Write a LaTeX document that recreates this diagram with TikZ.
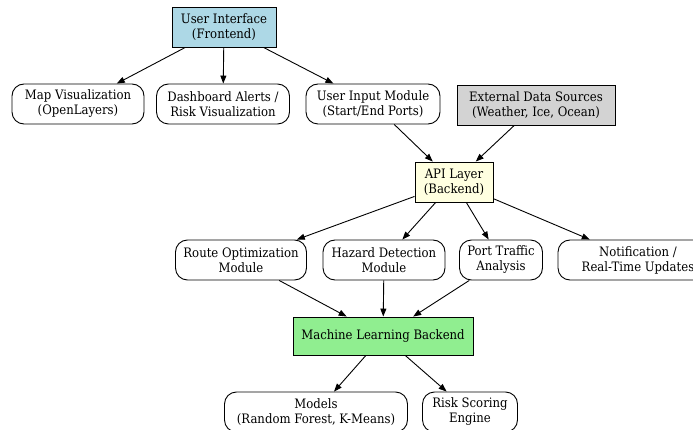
\documentclass[tikz,border=0pt]{standalone}
\usepackage{fontspec}
\setmainfont{DejaVu Serif Condensed}
\usetikzlibrary{arrows.meta}

\tikzset{
  box/.style={draw, line width=0.9pt, minimum height=40pt, align=center,
              inner sep=2pt, font=\fontsize{13}{15}\selectfont},
  rbox/.style={box, rounded corners=12pt, fill=white},
  edge/.style={->, line width=0.9pt}
}
\definecolor{uiblue}{HTML}{ADD8E6}
\definecolor{extgray}{HTML}{D3D3D3}
\definecolor{apiyellow}{HTML}{FFFFE0}
\definecolor{mlgreen}{HTML}{90EE90}

\begin{document}
\begin{tikzpicture}[>={Stealth[length=8pt,width=6pt,inset=0pt]}, x=1pt, y=-1pt]

% --- Frame (pixels of the reference) ---
\clip (0,0) rectangle (693,430);
\fill[white] (0,0) rectangle (693,430);

% ============================================================
% Top row: frontend and its modules
% ============================================================
\node[box, fill=uiblue, minimum width=104pt] (ui) at (224,27)
  {User Interface\\(Frontend)};

\node[rbox, minimum width=132pt] (mapvis) at (78,104)
  {Map Visualization\\(OpenLayers)};
\node[rbox, minimum width=133pt] (dash) at (223,104)
  {Dashboard Alerts /\\Risk Visualization};
\node[rbox, minimum width=134pt] (input) at (373,104)
  {User Input Module\\(Start/End Ports)};
\node[box, fill=extgray, minimum width=158pt] (ext) at (536,105)
  {External Data Sources\\(Weather, Ice, Ocean)};

% ============================================================
% API layer and services
% ============================================================
\node[box, fill=apiyellow, minimum width=78pt] (api) at (454,182)
  {API Layer\\(Backend)};

\node[rbox, minimum width=131pt] (route) at (241,260)
  {Route Optimization\\Module};
\node[rbox, minimum width=122pt] (hazard) at (384,260)
  {Hazard Detection\\Module};
\node[rbox, minimum width=83pt] (port) at (501,260)
  {Port Traffic\\Analysis};
\node[rbox, minimum width=160pt] (notify) at (638,260)
  {Notification /\\Real-Time Updates};

% ============================================================
% ML backend and its parts
% ============================================================
\node[box, fill=mlgreen, minimum width=180pt, minimum height=38pt] (ml)
  at (383,336) {Machine Learning Backend};

\node[rbox, minimum width=183pt] (models) at (316,412)
  {Models\\(Random Forest, K-Means)};
\node[rbox, minimum width=95pt] (risk) at (470,412)
  {Risk Scoring\\Engine};

% ============================================================
% Connectors
% ============================================================
\foreach \dst in {mapvis, dash, input}
  \draw[edge] (ui) -- (\dst);
\draw[edge] (input) -- (api);
\draw[edge] (ext) -- (api);
\foreach \dst in {route, hazard, port, notify}
  \draw[edge] (api) -- (\dst);
\foreach \src in {route, hazard, port}
  \draw[edge] (\src) -- (ml);
\draw[edge] (ml) -- (models);
\draw[edge] (ml) -- (risk);

\end{tikzpicture}
\end{document}
